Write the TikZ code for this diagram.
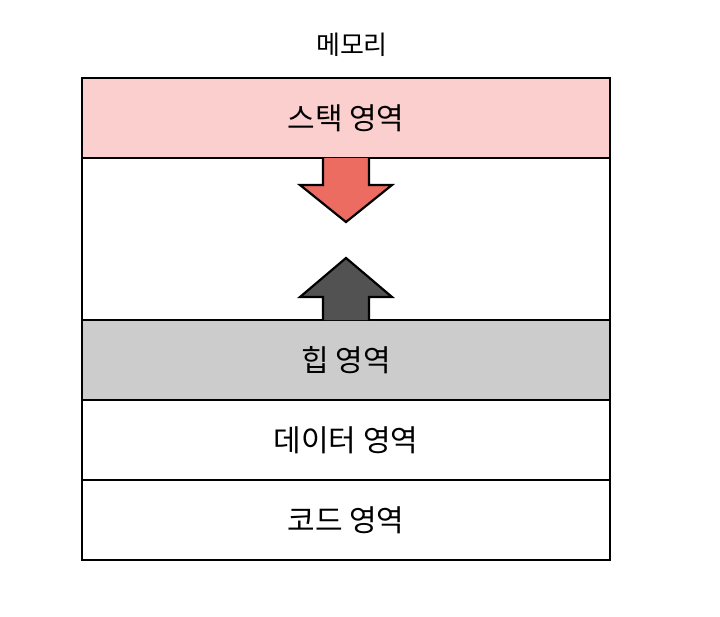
\documentclass[tikz,border=0pt]{standalone}
\usepackage{fontspec}
\setmainfont{Noto Sans CJK KR}
\usetikzlibrary{calc,positioning}
\definecolor{stackpink}{RGB}{252, 207, 207}
\definecolor{heapgray}{RGB}{204, 204, 204}
\definecolor{downred}{RGB}{236, 108, 98}
\definecolor{updark}{RGB}{82, 82, 82}

\tikzset{
  region/.style={draw,line width=2.4pt,minimum width=528pt,minimum height=80pt,
    inner sep=0pt,outer sep=0pt,font=\fontsize{30}{34}\selectfont},
  bigarrow/.style={draw,line width=2.2pt,line join=miter}
}

\begin{document}
\begin{tikzpicture}[x=1pt,y=-1pt,node distance=0pt]
  \useasboundingbox (0,0) rectangle (720,616);
  \node[font=\fontsize{26}{30}\selectfont] (title) at (352,45) {메모리};
  \node[region,fill=stackpink] (stack) at (346,118) {스택 영역};
  \node[region,fill=heapgray,below=162pt of stack] (heap) {힙 영역};
  \node[region,below=of heap] (data) {데이터 영역};
  \node[region,below=of data] (code) {코드 영역};
  \draw[line width=2.4pt] (stack.north west) rectangle (code.south east);
  % arrows between stack and heap
  \draw[bigarrow,fill=downred] ($(stack.south)+(-23,0)$) -- ++(0,27) -- ++(-23,0)
    -- ($(stack.south)+(0,64)$) -- ($(stack.south)+(46,27)$) -- ++(-23,0)
    -- ($(stack.south)+(23,0)$);
  \draw[bigarrow,fill=updark] ($(heap.north)+(-23,0)$) -- ++(0,-23) -- ++(-23,0)
    -- ($(heap.north)+(0,-62)$) -- ($(heap.north)+(46,-23)$) -- ++(-23,0)
    -- ($(heap.north)+(23,0)$);
\end{tikzpicture}
\end{document}
